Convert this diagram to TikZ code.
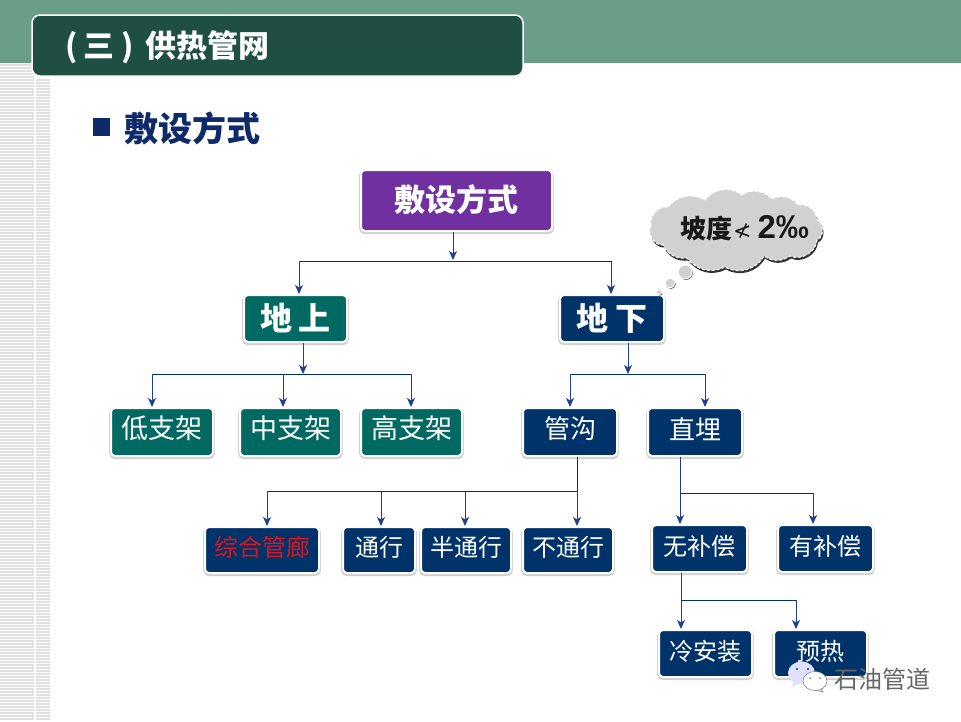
\documentclass[tikz,border=0pt]{standalone}
\usepackage{fontspec}
\newfontfamily\cjk{Noto Sans CJK SC}
\newfontfamily\dejav{DejaVu Sans}
\newfontfamily\libs{Liberation Sans}
\usetikzlibrary{shadows,shapes.geometric,arrows.meta}
\definecolor{band}{HTML}{6A9E87}
\definecolor{titlebox}{HTML}{1F4E42}
\definecolor{navyhead}{HTML}{0E2A69}
\definecolor{navybox}{HTML}{00336A}
\definecolor{tealbox}{HTML}{006A62}
\definecolor{purplebox}{HTML}{7030A0}
\definecolor{linkblue}{HTML}{1F3F8F}
\newcommand{\fs}[1]{\fontsize{#1pt}{#1pt}\selectfont}
\newcommand{\up}[2]{\raisebox{#1pt}[\height][\depth]{#2}}
\tikzset{
  x=1pt,y=-1pt,
  box/.style={draw=white,line width=2pt,rounded corners=4pt,inner sep=0pt,align=center,text=white,font=\cjk\fs{24},
    preaction={draw=black!18,line width=3.6pt,transform canvas={yshift=-1.4pt}}},
  navy/.style={box,fill=navybox},
  teal/.style={box,fill=tealbox},
  purple/.style={box,fill=purplebox},
  link/.style={draw=navybox,line width=.9pt},
  arr/.style={draw=linkblue,line width=1pt,-{Stealth[length=9pt,width=8pt,inset=2.5pt]}},
  bubble/.style={circle,fill=black!18,draw=white,line width=1pt,inner sep=0pt,drop shadow={shadow xshift=0.8pt,shadow yshift=-1pt,opacity=.7,fill=black}},
  eye/.style={circle,inner sep=0pt,minimum size=2.4pt},
}
\begin{document}
\begin{tikzpicture}
\useasboundingbox (0,0) rectangle (961,721);
\fill[white] (0,0) rectangle (961,721);
% top band
\fill[band] (0,0) rectangle (961,63);
% stripes at the left
\foreach \yy in {64,67,...,720}{
  \fill[black!12] (0,\yy) rectangle (50,\yy+1.5);
}
\fill[white] (34,64) rectangle (35.5,721);
\fill[white] (35.5,63) rectangle (50,78);
% title
\node[draw=white,line width=1.5pt,fill=titlebox,rounded corners=8pt,minimum width=491pt,minimum height=61pt,inner sep=0pt] (title) at (277.5,45.5) {};
\node[anchor=center,text=white,font=\cjk\bfseries\fs{31}] (titletxt) at (167.5,47.5) {(\hspace{.2em}三\hspace{.23em})\hspace{.38em}供热管网};
% heading
\node[fill=navyhead,minimum width=17pt,minimum height=18pt,inner sep=0pt] (sq) at (101.5,127) {};
\node[text=navyhead,font=\cjk\bfseries\fs{34}] (head) at (192.5,128) {敷设方式};
% boxes
\node[purple,minimum width=191pt,minimum height=61pt,font=\cjk\bfseries\fs{31}] (root) at (456.5,200.5) {\up{1}{敷设方式}};
\node[teal,minimum width=103pt,minimum height=47pt,font=\cjk\bfseries\fs{32}] (up) at (295.5,318.5) {\up{0}{地\hspace{.2em}上}};
\node[navy,minimum width=104pt,minimum height=47pt,font=\cjk\bfseries\fs{32}] (down) at (612,318.5) {\up{0}{地\hspace{.2em}下}};
\node[teal,minimum width=102pt,minimum height=48pt,font=\cjk\fs{27}] (low) at (162,432) {\up{4}{低支架}};
\node[teal,minimum width=101pt,minimum height=48pt,font=\cjk\fs{27}] (mid) at (290.5,432) {\up{4}{中支架}};
\node[teal,minimum width=101pt,minimum height=48pt,font=\cjk\fs{27}] (high) at (411.5,432) {\up{4}{高支架}};
\node[navy,minimum width=94pt,minimum height=48pt,font=\cjk\fs{26}] (ditch) at (570,432) {\up{3}{管沟}};
\node[navy,minimum width=94pt,minimum height=48pt,font=\cjk\fs{26}] (buried) at (695,432) {\up{3}{直埋}};
\node[navy,minimum width=114pt,minimum height=46pt,text={rgb,255:red,220;green,20;blue,30}] (gallery) at (262,550) {\up{3}{综合管廊}};
\node[navy,minimum width=72pt,minimum height=46pt] (pass) at (379,550) {\up{3}{通行}};
\node[navy,minimum width=90pt,minimum height=46pt] (semi) at (466,550) {\up{3}{半通行}};
\node[navy,minimum width=90pt,minimum height=46pt] (nopass) at (568,550) {\up{3}{不通行}};
\node[navy,minimum width=95pt,minimum height=47pt] (nocomp) at (699.5,548.5) {\up{2}{无补偿}};
\node[navy,minimum width=95pt,minimum height=47pt] (comp) at (825.5,548.5) {\up{2}{有补偿}};
\node[navy,minimum width=93pt,minimum height=47pt] (cold) at (705.5,653.5) {\up{2}{冷安装}};
\node[navy,minimum width=93pt,minimum height=47pt] (pre) at (820.5,653.5) {\up{2}{预热}};
% junctions
\coordinate (j0) at (453,260);
\coordinate (j0l) at (299,261);
\coordinate (j0r) at (611,261);
\coordinate (j1) at (303,374);
\coordinate (j1l) at (152,374);
\coordinate (j1m) at (283,374);
\coordinate (j1r) at (411,374);
\coordinate (j2) at (628,374);
\coordinate (j2l) at (570,374);
\coordinate (j2r) at (705,374);
\coordinate (j3) at (577,491);
\coordinate (j3a) at (267,491);
\coordinate (j3b) at (381,492);
\coordinate (j3c) at (465,492);
\coordinate (j4) at (680,493);
\coordinate (j4r) at (813,493);
\coordinate (j5) at (681,600);
\coordinate (j5r) at (796,600);
% connectors
\draw[arr] (root.south -| j0) -- (j0);
\draw[link] (j0l) -- (j0r);
\draw[arr] (j0l) -- (j0l |- up.north);
\draw[arr] (j0r) -- (j0r |- down.north);
\draw[arr] (up.south -| j1) -- (j1);
\draw[link] (j1l) -- (j1r);
\draw[arr] (j1l) -- (j1l |- low.north);
\draw[arr] (j1m) -- (j1m |- mid.north);
\draw[arr] (j1r) -- (j1r |- high.north);
\draw[arr] (down.south -| j2) -- (j2);
\draw[link] (j2l) -- (j2r);
\draw[arr] (j2l) -- (j2l |- ditch.north);
\draw[arr] (j2r) -- (j2r |- buried.north);
\draw[link] (ditch.south -| j3) -- (j3);
\draw[link] (j3a) -- (j3);
\draw[arr] (j3a) -- (j3a |- gallery.north);
\draw[arr] (j3b) -- (j3b |- pass.north);
\draw[arr] (j3c) -- (j3c |- semi.north);
\draw[arr] (j3) -- (j3 |- nopass.north);
\draw[link] (j4) -- (j4r);
\draw[arr] (buried.south -| j4) -- (j4 |- nocomp.north);
\draw[arr] (j4r) -- (j4r |- comp.north);
\draw[link] (j5) -- (j5r);
\draw[arr] (nocomp.south -| j5) -- (j5 |- cold.north);
\draw[arr] (j5r) -- (j5r |- pre.north);
% thought cloud
\path[fill=black!18,draw=white,line width=1pt,densely dashed,
  drop shadow={shadow xshift=1pt,shadow yshift=-2.5pt,opacity=.8,fill=black}]
  (651,226) to[bend left=55] (668,207) to[bend left=40] (705,200)
  to[bend left=45] (742,195) to[bend left=40] (772,199) to[bend left=40] (798,205)
  to[bend left=50] (817,220) to[bend left=70] (817,240) to[bend left=55] (790,256)
  to[bend left=35] (764,256) to[bend left=45] (725,267) to[bend left=40] (687,258)
  to[bend left=35] (663,245) to[bend left=60] cycle;
\node[anchor=west,inner sep=0pt,font=\cjk\bfseries\fs{26},text=black!90] (thoughttxt) at (680,228) {坡度\hspace{1pt}{\dejav\fontsize{22pt}{22pt}\selectfont\mdseries ≮}\hspace{6pt}{\libs\bfseries\fs{33}2‰}};
\node[bubble,minimum size=14pt] (b1) at (685,272) {};
\node[bubble,minimum size=10pt] (b2) at (670,283) {};
\node[bubble,minimum size=5pt] (b3) at (659,292) {};
% watermark
\fill[white!88!blue] (794,680) -- (792,687) -- (801,682) -- cycle;
\node[ellipse,fill=white!88!blue,minimum width=27pt,minimum height=23pt,inner sep=0pt] (wc1) at (801.5,673) {};
\node[eye,fill=navybox] (e1) at (797,669) {};
\node[eye,fill=navybox] (e2) at (808,669) {};
\draw[fill=white,draw=black!55,line width=.5pt] (820,688) -- (823,692) -- (815,690) -- cycle;
\node[ellipse,fill=white,draw=black!55,line width=.5pt,minimum width=24pt,minimum height=19pt,inner sep=0pt] (wc2) at (815,681) {};
\node[eye,fill=black!50,minimum size=2pt] (e3) at (810,678) {};
\node[eye,fill=black!50,minimum size=2pt] (e4) at (820,678) {};
\node[text=black!60,font=\cjk\fs{24}] (mark) at (882,679) {石油管道};
\end{tikzpicture}
\end{document}
